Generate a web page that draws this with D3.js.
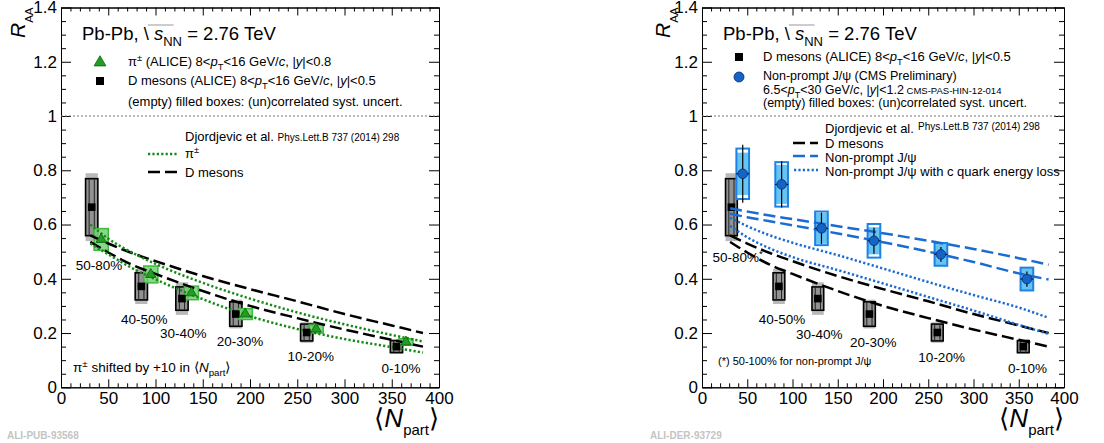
<!DOCTYPE html>
<html><head><meta charset="utf-8">
<script src="https://cdn.jsdelivr.net/npm/d3@7"></script>
<style>
body{margin:0;background:#fff;}
svg text{font-family:"Liberation Sans",Arial,Helvetica,sans-serif;white-space:pre;}
</style></head><body>
<svg id="c" width="1104" height="443"></svg>
<script>
// ---------- data ----------
const centrality = ["50-80%","40-50%","30-40%","20-30%","10-20%","0-10%"];

// D mesons (ALICE), 8<pT<16 GeV/c
const npartD = [32.5, 85, 128, 185, 260, 355];
const raaD = [0.664, 0.372, 0.327, 0.270, 0.202, 0.150];
const systUncorrD = [0.105, 0.050, 0.043, 0.045, 0.031, 0.022];
const systCorrD   = [0.125, 0.065, 0.060, 0.053, 0.038, 0.027];

// charged pions (ALICE), drawn shifted in Npart
const npartShiftPi = 10;
const raaPi = [0.545, 0.416, 0.348, 0.270, 0.215, 0.167];
const systPi = [0.040, 0.031, 0.025, 0.020, 0.015, 0.012];

// non-prompt J/psi (CMS preliminary)
const npartJpsi = [45, 88, 132, 190, 264, 359];
const raaJpsi = [0.787, 0.748, 0.586, 0.540, 0.490, 0.399];
const statJpsi = [0.107, 0.085, 0.058, 0.048, 0.027, 0.028];
const systUncorrJpsi = [0.093, 0.082, 0.062, 0.062, 0.042, 0.042];
const systCorrJpsi   = [0.078, 0.072, 0.057, 0.050, 0.040, 0.040];

// Djordjevic et al. model bands (upper / lower edges)
const curveNpart = [31, 50, 75, 100, 150, 200, 250, 300, 350, 383];
const dModelUpper = [0.560,0.530,0.495,0.465,0.410,0.362,0.317,0.270,0.228,0.200];
const dModelLower = [0.536,0.497,0.452,0.418,0.355,0.300,0.255,0.213,0.175,0.150];
const piModelUpper = [0.600,0.548,0.497,0.455,0.385,0.327,0.276,0.232,0.193,0.169];
const piModelLower = [0.530,0.490,0.440,0.398,0.325,0.262,0.215,0.178,0.148,0.128];
const jpsiModelUpper = [0.660,0.648,0.633,0.620,0.594,0.568,0.540,0.510,0.476,0.452];
const jpsiModelLower = [0.640,0.627,0.612,0.597,0.567,0.535,0.500,0.462,0.420,0.397];
const jpsiElossUpper = [0.625,0.594,0.560,0.533,0.487,0.438,0.388,0.340,0.294,0.256];
const jpsiElossLower = [0.595,0.553,0.512,0.480,0.432,0.383,0.333,0.283,0.230,0.197];

// axis ticks
const xTicks = [0,50,100,150,200,250,300,350,400];
const yTicks = [0,0.2,0.4,0.6,0.8,1,1.2,1.4];
const yTickLabels = ["0","0.2","0.4","0.6","0.8","1","1.2","1.4"];

// ---------- layout ----------
const labelPosLeft  = [[40.2,0.451],[88.1,0.252],[129.4,0.199],[189.4,0.172],[264.2,0.116],[359.8,0.072]];
const labelPosRight = [[39.5,0.479],[88.3,0.251],[129.7,0.195],[189.3,0.168],[264.8,0.113],[359.6,0.070]];

const C = {
  grayLight:"#b9b9b9", grayMid:"#929292",
  greenFill:"#7fd27f", greenEdge:"#3cb93c", greenMarker:"#1f9f1f", greenLine:"#168a16",
  blueFill:"#66c4f3", blueEdge:"#1d82e3", blueLine:"#1a6bd2", blueMarker:"#1463c6"
};

const svg = d3.select("#c");

function rich(g, x, y, parts, size, anchor){
  const t = g.append("text").attr("x",x).attr("y",y).attr("font-size",size)
    .attr("text-anchor",anchor||"start").attr("fill","#000");
  let shift = 0;
  parts.forEach(p=>{
    const o = typeof p === "string" ? {t:p} : p;
    const ts = t.append("tspan").text(o.t);
    let target = 0, fs = o.fs || size;
    if (o.sub){ target = o.shift !== undefined ? o.shift : size*0.32; fs = o.fs || size*0.72; }
    if (o.sup){ target = -size*0.38; fs = o.fs || size*0.72; }
    if (o.i) ts.attr("font-style","italic");
    ts.attr("font-size",fs);
    if (target !== shift){ ts.attr("dy", target-shift); shift = target; }
  });
  return t;
}

function makePanel(x0,x1){
  const x = d3.scaleLinear().domain([0,400]).range([x0,x1]);
  const y = d3.scaleLinear().domain([0,1.4]).range([387.3,7.5]);
  return {x,y};
}

function drawAxes(g,x,y){
  const [xa,xb] = x.range(), [ya,yb] = y.range();
  const xMinor = d3.range(0,401,10).filter(v=>v%50!==0);
  const yMinor = d3.range(0,29).map(i=>i*0.05).filter((v,i)=>i%4!==0);
  const style = s => { s.selectAll("path").attr("stroke","#000").attr("stroke-width",1);
                      s.selectAll("line").attr("stroke","#000").attr("stroke-width",1);
                      s.attr("font-family",null).attr("font-size",17); s.selectAll("text").attr("fill","#000"); };
  g.append("g").attr("transform",`translate(0,${ya})`)
    .call(d3.axisBottom(x).tickValues(xTicks).tickSize(-8).tickSizeOuter(0).tickPadding(5).tickFormat(d3.format("d"))).call(style);
  g.append("g").attr("transform",`translate(0,${ya})`)
    .call(d3.axisBottom(x).tickValues(xMinor).tickSize(-4).tickSizeOuter(0).tickFormat("")).call(style);
  g.append("g").attr("transform",`translate(0,${yb})`)
    .call(d3.axisTop(x).tickValues(xTicks).tickSize(-8).tickSizeOuter(0).tickFormat("")).call(style);
  g.append("g").attr("transform",`translate(0,${yb})`)
    .call(d3.axisTop(x).tickValues(xMinor).tickSize(-4).tickSizeOuter(0).tickFormat("")).call(style);
  g.append("g").attr("transform",`translate(${xa},0)`)
    .call(d3.axisLeft(y).tickValues(yTicks).tickSize(-10).tickSizeOuter(0).tickPadding(4).tickFormat((d,i)=>yTickLabels[i])).call(style);
  g.append("g").attr("transform",`translate(${xa},0)`)
    .call(d3.axisLeft(y).tickValues(yMinor).tickSize(-5).tickSizeOuter(0).tickFormat("")).call(style);
  g.append("g").attr("transform",`translate(${xb},0)`)
    .call(d3.axisRight(y).tickValues(yTicks).tickSize(-10).tickSizeOuter(0).tickFormat("")).call(style);
  g.append("g").attr("transform",`translate(${xb},0)`)
    .call(d3.axisRight(y).tickValues(yMinor).tickSize(-5).tickSizeOuter(0).tickFormat("")).call(style);
  // reference line at unity
  g.append("line").attr("x1",xa).attr("x2",xb).attr("y1",y(1)).attr("y2",y(1))
    .attr("stroke","#777").attr("stroke-width",1).attr("stroke-dasharray","2,2");
}

function drawTitles(g,x,y,rx){
  const [xa,xb] = x.range();
  // y title R_AA (rotated)
  const ty = g.append("g").attr("transform",`translate(${rx},38) rotate(-90)`);
  rich(ty,0,0,[{t:"R",i:1},{t:"AA",sub:1,fs:11.5,shift:8}],21);
  // x title <N_part>
  rich(g,xb,427,[{t:"\u27E8"},{t:"N",i:1},{t:"part",sub:1,fs:15},{t:"\u27E9"}],26,"end");
}

function headline(g,x0){
  const t = rich(g,x0,40,["Pb-Pb, \\ ",{t:"s",i:1},{t:"NN",sub:1,fs:13},{t:" = 2.76 TeV"}],18.5);
  const node = t.node();
  const s0 = node.getExtentOfChar(8), s1 = node.getExtentOfChar(10);
  g.append("line").attr("x1",s0.x-1).attr("x2",s1.x+s1.width+1).attr("y1",25).attr("y2",25)
    .attr("stroke","#999").attr("stroke-width",1);
}

function pTrange(lo,hi,yCut){
  return [lo+"<",{t:"p",i:1},{t:"T",sub:1},"<"+hi+" GeV/",{t:"c",i:1},", |",{t:"y",i:1},"|<"+yCut];
}

function drawDBoxes(g,x,y){
  const hw = 6.5;
  npartD.forEach((n,i)=>{
    const v = raaD[i];
    g.append("rect").attr("x",x(n-hw)).attr("width",x(n+hw)-x(n-hw))
      .attr("y",y(v+systCorrD[i])).attr("height",y(v-systCorrD[i])-y(v+systCorrD[i]))
      .attr("fill",C.grayLight);
    g.append("rect").attr("x",x(n-hw)).attr("width",x(n+hw)-x(n-hw))
      .attr("y",y(v+systUncorrD[i])).attr("height",y(v-systUncorrD[i])-y(v+systUncorrD[i]))
      .attr("fill",C.grayMid).attr("stroke","#000").attr("stroke-width",1.6);
    [-2.6,2.6].forEach(d=>g.append("line").attr("x1",x(n)+d).attr("x2",x(n)+d)
      .attr("y1",y(v+systUncorrD[i])).attr("y2",y(v-systUncorrD[i])).attr("stroke","#222").attr("stroke-width",1));
  });
}
function drawDMarkers(g,x,y){
  npartD.forEach((n,i)=>g.append("rect").attr("x",x(n)-3.8).attr("y",y(raaD[i])-3.8)
    .attr("width",7.6).attr("height",7.6).attr("fill","#000"));
}
function drawCurve(g,x,y,vals,color,dash,w){
  const line = d3.line().x(d=>x(d[0])).y(d=>y(d[1])).curve(d3.curveMonotoneX);
  g.append("path").attr("d",line(d3.zip(curveNpart,vals))).attr("fill","none")
    .attr("stroke",color).attr("stroke-width",w).attr("stroke-dasharray",dash);
}
const triangle = d3.symbol().type(d3.symbolTriangle).size(46);

// ================= left panel =================
{
  const {x,y} = makePanel(61,439);
  const g = svg.append("g");
  drawAxes(g,x,y);
  drawTitles(g,x,y,25);
  headline(g,82);

  g.append("path").attr("d",d3.symbol().type(d3.symbolTriangle).size(60)()).attr("transform","translate(100,62.5)")
    .attr("fill",C.greenMarker).attr("stroke","#0d5f0d").attr("stroke-width",0.8);
  rich(g,128,66,[{t:"\u03C0"},{t:"\u00B1",sup:1}," (ALICE) "].concat(pTrange(8,16,"0.8")),13);
  g.append("rect").attr("x",96).attr("y",77).attr("width",8).attr("height",8).attr("fill","#000");
  rich(g,128,85,["D mesons (ALICE) "].concat(pTrange(8,16,"0.5")),13);
  rich(g,128,106,["(empty) filled boxes: (un)correlated syst. uncert."],13);

  rich(g,185,141,["Djordjevic et al. ",{t:"Phys.Lett.B 737 (2014) 298",fs:10}],13);
  g.append("line").attr("x1",148).attr("x2",177).attr("y1",154).attr("y2",154)
    .attr("stroke",C.greenLine).attr("stroke-width",2.5).attr("stroke-dasharray","2.2,2.2");
  rich(g,185,158,[{t:"\u03C0"},{t:"\u00B1",sup:1}],13);
  g.append("line").attr("x1",148).attr("x2",177).attr("y1",172).attr("y2",172)
    .attr("stroke","#000").attr("stroke-width",2.5).attr("stroke-dasharray","12,5");
  rich(g,185,177,["D mesons"],13);

  drawDBoxes(g,x,y);
  // pion boxes
  const hwPi = 7.5;
  npartD.forEach((n,i)=>{
    const nn = n + npartShiftPi, v = raaPi[i];
    g.append("rect").attr("x",x(nn-hwPi)).attr("width",x(nn+hwPi)-x(nn-hwPi))
      .attr("y",y(v+systPi[i])).attr("height",y(v-systPi[i])-y(v+systPi[i]))
      .attr("fill",C.greenFill).attr("fill-opacity",0.9).attr("stroke",C.greenEdge).attr("stroke-width",1.5);
  });
  drawCurve(g,x,y,dModelUpper,"#000","12,5",2.5);
  drawCurve(g,x,y,dModelLower,"#000","12,5",2.5);
  drawCurve(g,x,y,piModelUpper,C.greenLine,"2.2,2.2",2.5);
  drawCurve(g,x,y,piModelLower,C.greenLine,"2.2,2.2",2.5);
  drawDMarkers(g,x,y);
  npartD.forEach((n,i)=>g.append("path").attr("d",triangle())
    .attr("transform",`translate(${x(n+npartShiftPi)},${y(raaPi[i])})`)
    .attr("fill",C.greenMarker).attr("stroke","#0d5f0d").attr("stroke-width",0.8));

  centrality.forEach((c,i)=>rich(g,x(labelPosLeft[i][0]),y(labelPosLeft[i][1])+5,[c],13.5,"middle"));
  rich(g,73,372,[{t:"\u03C0"},{t:"\u00B1",sup:1}," shifted by +10 in \u27E8",{t:"N",i:1},{t:"part",sub:1},"\u27E9"],13.5);

  g.append("text").attr("x",7).attr("y",439).attr("font-size",10).attr("font-weight","bold")
    .attr("font-family","'Liberation Mono','DejaVu Sans Mono',monospace").attr("fill","#c4c4c4").text("ALI-PUB-93568");
}

// ================= right panel =================
{
  const {x,y} = makePanel(702,1064);
  const g = svg.append("g");
  drawAxes(g,x,y);
  drawTitles(g,x,y,670);
  headline(g,723);

  g.append("rect").attr("x",735).attr("y",53).attr("width",8).attr("height",8).attr("fill","#000");
  rich(g,763,61,["D mesons (ALICE) "].concat(pTrange(8,16,"0.5")),13);
  g.append("circle").attr("cx",739).attr("cy",77).attr("r",5).attr("fill",C.blueMarker).attr("stroke","#0a2a66").attr("stroke-width",0.8);
  rich(g,763,80,["Non-prompt J/\u03C8 (CMS Preliminary)"],12.5);
  rich(g,763,94,pTrange(6.5,30,"1.2").concat([{t:" CMS-PAS-HIN-12-014",fs:9.5}]),12.5);
  rich(g,763,107,["(empty) filled boxes: (un)correlated syst. uncert."],12.5);

  rich(g,825,133,["Djordjevic et al."],13);
  rich(g,918,130,["Phys.Lett.B 737 (2014) 298"],10);
  g.append("line").attr("x1",793).attr("x2",818).attr("y1",143).attr("y2",143)
    .attr("stroke","#000").attr("stroke-width",2.5).attr("stroke-dasharray","12,5");
  rich(g,825,148,["D mesons"],13);
  g.append("line").attr("x1",793).attr("x2",818).attr("y1",156).attr("y2",156)
    .attr("stroke",C.blueLine).attr("stroke-width",2.5).attr("stroke-dasharray","12,5");
  rich(g,825,162,["Non-prompt J/\u03C8"],13);
  g.append("line").attr("x1",794).attr("x2",818).attr("y1",170).attr("y2",170)
    .attr("stroke",C.blueLine).attr("stroke-width",2.5).attr("stroke-dasharray","2.2,2.2");
  rich(g,825,176,["Non-prompt J/\u03C8 with c quark energy loss"],13);

  drawDBoxes(g,x,y);
  // J/psi boxes
  const hwJ = 7;
  npartJpsi.forEach((n,i)=>{
    const v = raaJpsi[i];
    g.append("rect").attr("x",x(n-hwJ)).attr("width",x(n+hwJ)-x(n-hwJ))
      .attr("y",y(v+systUncorrJpsi[i])).attr("height",y(v-systUncorrJpsi[i])-y(v+systUncorrJpsi[i]))
      .attr("fill","#fff");
    g.append("rect").attr("x",x(n-hwJ)).attr("width",x(n+hwJ)-x(n-hwJ))
      .attr("y",y(v+systCorrJpsi[i])).attr("height",y(v-systCorrJpsi[i])-y(v+systCorrJpsi[i]))
      .attr("fill",C.blueFill);
    g.append("rect").attr("x",x(n-hwJ)).attr("width",x(n+hwJ)-x(n-hwJ))
      .attr("y",y(v+systUncorrJpsi[i])).attr("height",y(v-systUncorrJpsi[i])-y(v+systUncorrJpsi[i]))
      .attr("fill","none").attr("stroke",C.blueEdge).attr("stroke-width",2);
  });
  drawDMarkers(g,x,y);
  drawCurve(g,x,y,dModelUpper,"#000","12,5",2.5);
  drawCurve(g,x,y,dModelLower,"#000","12,5",2.5);
  drawCurve(g,x,y,jpsiModelUpper,C.blueLine,"12,5",2.5);
  drawCurve(g,x,y,jpsiModelLower,C.blueLine,"12,5",2.5);
  drawCurve(g,x,y,jpsiElossUpper,C.blueLine,"2.2,2.2",2.5);
  drawCurve(g,x,y,jpsiElossLower,C.blueLine,"2.2,2.2",2.5);
  npartJpsi.forEach((n,i)=>{
    const v = raaJpsi[i];
    g.append("line").attr("x1",x(n)).attr("x2",x(n)).attr("y1",y(v+statJpsi[i])).attr("y2",y(v-statJpsi[i]))
      .attr("stroke","#000").attr("stroke-width",1.2);
    g.append("line").attr("x1",x(n)-6.5).attr("x2",x(n)+6.5).attr("y1",y(v)).attr("y2",y(v))
      .attr("stroke","#000").attr("stroke-width",1);
    g.append("circle").attr("cx",x(n)).attr("cy",y(v)).attr("r",4.8)
      .attr("fill",C.blueMarker).attr("stroke","#0a2a66").attr("stroke-width",0.8);
  });

  centrality.forEach((c,i)=>{
    const parts = i===0 ? [c,{t:"*",sup:1}] : [c];
    rich(g,x(labelPosRight[i][0]),y(labelPosRight[i][1])+5,parts,13.5,"middle");
  });
  rich(g,718,365,["(*) 50-100% for non-prompt J/\u03C8"],11);

  g.append("text").attr("x",650).attr("y",439).attr("font-size",10).attr("font-weight","bold")
    .attr("font-family","'Liberation Mono','DejaVu Sans Mono',monospace").attr("fill","#c4c4c4").text("ALI-DER-93729");
}
</script>
</body></html>
